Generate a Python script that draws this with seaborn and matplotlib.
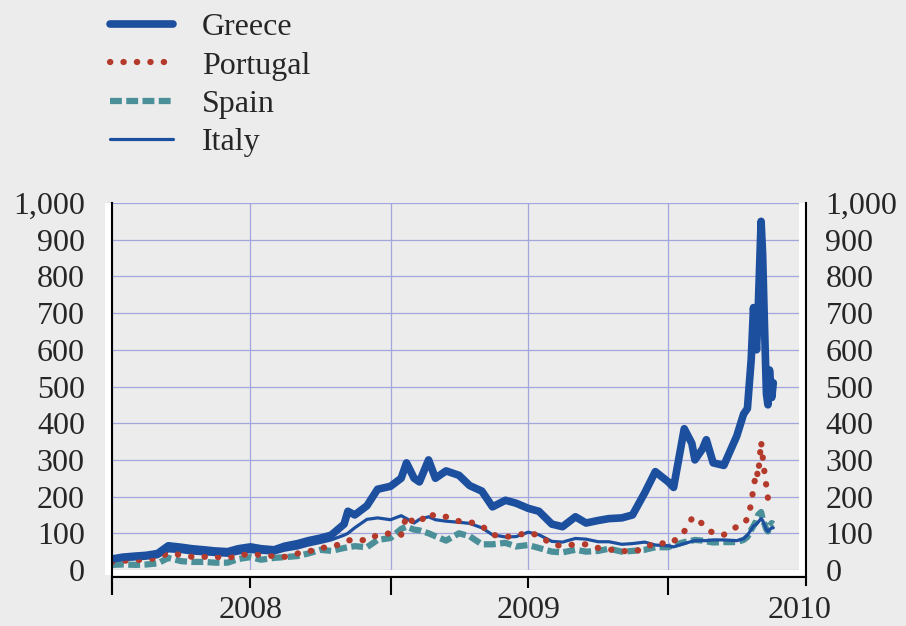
import pandas as pd
import numpy as np
import matplotlib.pyplot as plt
import matplotlib.ticker as mticker
from matplotlib.patches import Rectangle
import seaborn as sns

# sovereign spreads over bunds, basis points
dates = [
    "2008-01-01", "2008-01-15", "2008-02-01", "2008-02-15", "2008-03-01", "2008-03-15",
    "2008-04-01", "2008-04-15", "2008-05-01", "2008-05-15", "2008-06-01", "2008-06-15",
    "2008-07-01", "2008-07-15", "2008-08-01", "2008-08-15", "2008-09-01", "2008-09-15",
    "2008-10-01", "2008-10-15", "2008-11-01", "2008-11-06", "2008-11-15", "2008-12-01",
    "2008-12-15", "2009-01-01", "2009-01-15", "2009-01-22", "2009-02-01", "2009-02-08",
    "2009-02-20", "2009-03-01", "2009-03-15", "2009-04-01", "2009-04-15", "2009-05-01",
    "2009-05-15", "2009-06-01", "2009-06-15", "2009-07-01", "2009-07-15", "2009-08-01",
    "2009-08-15", "2009-09-01", "2009-09-15", "2009-10-01", "2009-10-15", "2009-11-01",
    "2009-11-15", "2009-12-01", "2009-12-15", "2010-01-01", "2010-01-08", "2010-01-22",
    "2010-02-01", "2010-02-05", "2010-02-15", "2010-02-20", "2010-03-01", "2010-03-15",
    "2010-04-01", "2010-04-10", "2010-04-15", "2010-04-20", "2010-04-23", "2010-04-27",
    "2010-04-29", "2010-05-03", "2010-05-05", "2010-05-07", "2010-05-10", "2010-05-12",
    "2010-05-14", "2010-05-17", "2010-05-19",
]

greece = [
    30, 35, 38, 40, 45, 66,
    62, 58, 55, 52, 50, 58,
    63, 58, 55, 65, 72, 80,
    87, 95, 125, 160, 150, 175,
    220, 228, 250, 292, 250, 240,
    300, 250, 270, 258, 230, 215,
    172, 190, 182, 168, 160, 125,
    118, 145, 128, 135, 140, 142,
    150, 210, 268, 240, 225, 385,
    345, 300, 330, 355, 292, 285,
    365, 425, 440, 574, 715, 600,
    700, 950, 860, 700, 480, 450,
    545, 470, 510,
]
portugal = [
    22, 25, 27, 28, 33, 46,
    41, 36, 36, 36, 33, 40,
    44, 41, 38, 36, 45, 50,
    60, 63, 74, 80, 84, 80,
    96, 100, 96, 148, 128, 130,
    156, 145, 145, 133, 131, 120,
    96, 90, 94, 102, 94, 70,
    65, 70, 70, 60, 56, 52,
    50, 58, 76, 70, 78, 105,
    140, 145, 125, 115, 100, 96,
    118, 125, 140, 180, 225, 270,
    255, 350, 310, 273, 227, 195,
    200, 190, 185,
]
spain = [
    14, 15, 14, 15, 18, 33,
    24, 22, 22, 20, 20, 30,
    35, 28, 33, 35, 38, 45,
    55, 52, 60, 62, 65, 62,
    82, 87, 112, 118, 110, 108,
    100, 92, 80, 100, 92, 70,
    70, 74, 64, 68, 60, 50,
    48, 55, 50, 52, 58, 50,
    52, 55, 62, 62, 68, 76,
    80, 82, 80, 78, 75, 76,
    76, 82, 90, 110, 120, 135,
    150, 158, 140, 128, 110, 105,
    120, 128, 125,
]
italy = [
    25, 28, 30, 32, 36, 52,
    50, 46, 44, 42, 40, 46,
    50, 48, 46, 54, 60, 68,
    75, 82, 95, 100, 115, 138,
    142, 137, 148, 140, 128, 138,
    145, 137, 133, 130, 127, 115,
    96, 90, 91, 103, 96, 78,
    76, 86, 84, 77, 77, 70,
    72, 76, 68, 66, 63, 72,
    78, 80, 80, 80, 82, 82,
    80, 85, 95, 110, 120, 125,
    130, 140, 135, 125, 110, 105,
    110, 115, 115,
]

year_starts = ["2008-01-01", "2009-01-01", "2010-01-01"]
year_labels = ["2008", "2009", "2010"]
label_dates = ["2008-07-01", "2009-07-01", "2010-06-22"]
x_start = "2008-01-01"
x_end = "2010-07-01"
y_ticks = list(range(0, 1001, 100))

df = pd.DataFrame({
    "date": pd.to_datetime(dates),
    "Greece": greece,
    "Portugal": portugal,
    "Spain": spain,
    "Italy": italy,
})

bg = "#ececec"
grid_col = "#a3a6dc"
blue = "#1d4f9f"
red = "#b43a2c"
teal = "#4b9099"

sns.set_style("white")
plt.rcParams["font.family"] = ["Liberation Serif", "DejaVu Serif"]
fs = 23
fmt = mticker.FuncFormatter(lambda v, p: f"{int(v):,}")

fig = plt.figure(figsize=(9.06, 6.26), dpi=100, facecolor=bg)
# axes run to the right axis line; the last 7px are covered by a white strip
ax = fig.add_axes([112 / 906, 1 - 570 / 626, (806 - 112) / 906, (570 - 203) / 626])
ax.set_facecolor(bg)

# drawing order: spain, italy, portugal, greece on top
styles = {
    "Spain": dict(color=teal, linewidth=4.5, linestyle=(0, (1.9, 0.7)), dash_capstyle="butt"),
    "Italy": dict(color=blue, linewidth=2.3),
    "Portugal": dict(color=red, linewidth=4.5, linestyle=(0, (0.05, 2.1)), dash_capstyle="round"),
    "Greece": dict(color=blue, linewidth=5.5, solid_joinstyle="round", solid_capstyle="round"),
}
for name in ["Spain", "Italy", "Portugal", "Greece"]:
    sns.lineplot(data=df, x="date", y=name, ax=ax, label=name, **styles[name])

ax.set_xlabel("")
ax.set_ylabel("")

# frame (set before ticks: moving a spine resets the ticks)
ax.spines["top"].set_visible(False)
for s in ["left", "bottom", "right"]:
    ax.spines[s].set_visible(True)
    ax.spines[s].set_color("black")
    ax.spines[s].set_linewidth(1.5)
ax.spines["left"].set_bounds(-62, 1000)
ax.spines["right"].set_bounds(-42, 1000)
ax.spines["bottom"].set_position(("outward", 5))

# left y labels
ax.set_ylim(0, 1000)
ax.set_yticks(y_ticks)
ax.yaxis.set_major_formatter(fmt)
ax.tick_params(axis="y", left=False, right=False, labelleft=True, labelright=False,
               pad=16, labelsize=fs)

# right y labels (twin so the padding can differ)
ax2 = ax.twinx()
ax2.set_ylim(0, 1000)
ax2.set_yticks(y_ticks)
ax2.yaxis.set_major_formatter(fmt)
ax2.tick_params(axis="y", left=False, right=False, labelleft=False, labelright=True,
                pad=10.5, labelsize=fs)
for s in ax2.spines.values():
    s.set_visible(False)

# x axis: year boundaries as long ticks, year labels in between
ax.set_xlim(pd.Timestamp(x_start), pd.Timestamp(x_end))
ax.set_xticks(pd.to_datetime(year_starts), labels=[""] * 3)
ax.set_xticks(pd.to_datetime(label_dates), labels=year_labels, minor=True)
ax.tick_params(axis="x", which="both", bottom=True, color="black", direction="out", width=1.5)
ax.tick_params(axis="x", which="major", length=13)
ax.tick_params(axis="x", which="minor", length=8, pad=5.5, labelsize=fs)

ax.grid(True, which="both", color=grid_col, linewidth=0.9)

# the 2010 label sits at the plot edge: no tick or gridline there
last = ax.xaxis.get_minor_ticks()[2]
last.tick1line.set_visible(False)
last.gridline.set_visible(False)

# white strips between plot area and axis lines
wx = 7 / 694
wy = 5 / 367
for r in [(-wx, -wy, wx, 1 + wy), (-wx, -wy, 1 + wx, wy), (1 - wx, -wy, wx, 1 + wy)]:
    ax.add_patch(Rectangle((r[0], r[1]), r[2], r[3], transform=ax.transAxes,
                           facecolor="white", edgecolor="none", clip_on=False, zorder=0.8))

# legend above the plot
handles, labels = ax.get_legend_handles_labels()
hmap = dict(zip(labels, handles))
order = ["Greece", "Portugal", "Spain", "Italy"]
if ax.get_legend() is not None:
    ax.get_legend().remove()
fig.legend([hmap[k] for k in order], order, loc="upper left",
           bbox_to_anchor=(110 / 906, 1 - 13 / 626), frameon=False, fontsize=fs,
           handlelength=1.97, handletextpad=0.9, labelspacing=0.28,
           borderpad=0, borderaxespad=0)

fig.savefig("out.png", dpi=100, facecolor=bg)
